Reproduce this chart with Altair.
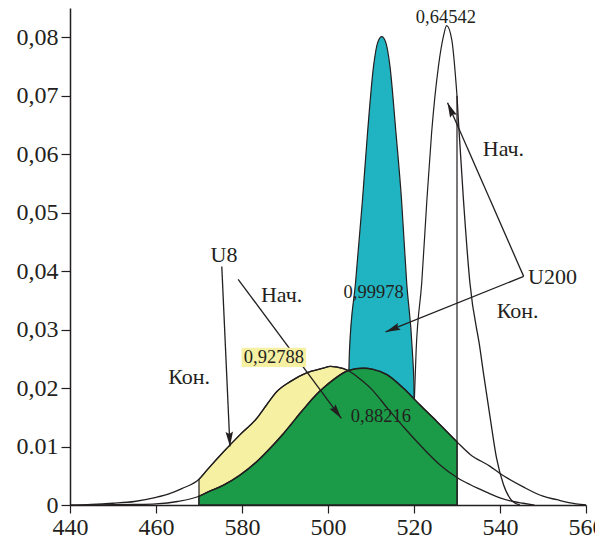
import math
import altair as alt
import pandas as pd

# ---------------- data ----------------
# U8, "Кон." (yellow curve)
u8_kon_x = [440, 445, 450, 455, 460, 463, 466, 470, 472, 475.7, 479.5, 483.4, 485.7, 488.1,
            491.2, 495, 498.9, 500.5, 502, 504.7, 507, 510, 514, 518, 522, 526, 530,
            533, 535.3, 537.7, 540, 543, 545.4, 548]
u8_kon_y = [0, 0.0001, 0.0003, 0.0006, 0.0013, 0.0019, 0.0028, 0.0044, 0.0061, 0.0091, 0.0120,
            0.0148, 0.0171, 0.0194, 0.0211, 0.0226, 0.0234, 0.0237, 0.0236, 0.0230, 0.0218,
            0.0199, 0.0164, 0.0130, 0.0098, 0.0069, 0.0047, 0.0035, 0.0027, 0.0019, 0.0012,
            0.0006, 0.0003, 0.0]

# U8, "Нач." (green curve)
u8_nach_x = [445, 450, 455, 460, 465, 470, 472, 475.7, 479.5, 483.4, 487.3, 489.5, 491.2,
             493.4, 495, 497.3, 498.9, 501.2, 504.7, 508.2, 510.5, 513.7, 517.5, 521.4,
             525.3, 530, 533, 537.7, 540, 545.4, 550, 553.2, 556, 560]
u8_nach_y = [0, 0.00005, 0.0001, 0.0002, 0.0006, 0.0015, 0.0022, 0.0034, 0.0051, 0.0074,
             0.0103, 0.0121, 0.0136, 0.0156, 0.0170, 0.0189, 0.0200, 0.0214, 0.0230, 0.0234,
             0.0232, 0.0223, 0.0200, 0.0171, 0.0143, 0.0108, 0.0087, 0.0066, 0.0054,
             0.0031, 0.0015, 0.0009, 0.0004, 0.0]

# U200, "Кон." (teal curve)
u200_kon_x = [504.7, 504.8, 505.0, 506.4, 508.0, 509.2, 510.6, 511.6, 512.5, 513.4, 514.4,
              515.8, 517.1, 518.3, 519.6, 520.0, 520.2]
u200_kon_y = [0, 0.020, 0.0265, 0.038, 0.052, 0.0637, 0.0751, 0.0792, 0.0801, 0.0792,
              0.0751, 0.0637, 0.0522, 0.038, 0.0265, 0.020, 0]

# U200, "Нач." (white curve)
u200_nach_x = [519.0, 519.8, 520.5, 521.8, 523.0, 524.1, 525.7, 526.8, 527.6, 528.8, 530.0,
               530.3, 531.5, 533.0, 535.4, 536.1, 537.7, 539.2, 540.8, 542.7, 544.6]
u200_nach_y = [0, 0.012, 0.0265, 0.038, 0.0522, 0.0637, 0.0751, 0.0800, 0.0820, 0.0795,
               0.0700, 0.0660, 0.0522, 0.038, 0.0265, 0.0228, 0.0150, 0.0080, 0.0035,
               0.0008, 0]

clip_lo, clip_hi = 470, 530

x_ticks = [440, 460, 480, 500, 520, 540, 560]
y_ticks = [0, 0.01, 0.02, 0.03, 0.04, 0.05, 0.06, 0.07, 0.08]

# annotations (data coordinates)
word_text = ["U200", "Нач.", "Кон.", "U8", "Нач.", "Кон."]
word_x = [552.2, 540.8, 544.1, 475.8, 489.2, 467.7]
word_y = [0.0390, 0.0608, 0.0331, 0.0428, 0.0360, 0.0219]

num_text = ["0,64542", "0,99978", "0,92788", "0,88216"]
num_x = [527.4, 510.6, 487.4, 512.3]
num_y = [0.0835, 0.0364, 0.0253, 0.0153]

box_x = [479.9]
box_x2 = [494.9]
box_y = [0.0236]
box_y2 = [0.0269]

arrow_x = [545.5, 545.5, 475.3, 479.1]
arrow_y = [0.0391, 0.0391, 0.0408, 0.0386]
arrow_tip_x = [527.8, 513.4, 477.2, 503.1]
arrow_tip_y = [0.0688, 0.0296, 0.0100, 0.0148]

# ---------------- chart ----------------
X_DOMAIN = [440, 560]
Y_DOMAIN = [0, 0.085]
W, H = 516, 497
INK = "#231f20"
FONT = "Liberation Serif"

xs = alt.Scale(domain=X_DOMAIN, nice=False, zero=False)
ys = alt.Scale(domain=Y_DOMAIN, nice=False)


def df(xv, yv):
    return pd.DataFrame({"x": xv, "y": yv})


def clipped(xv, yv, lo, hi):
    d = df(xv, yv)
    return d[(d.x >= lo) & (d.x <= hi)]


x_axis = alt.Axis(values=x_ticks, labelExpr="datum.value == 480 ? '580' : datum.label",
                  grid=False, title=None, domainColor=INK, domainWidth=1.5,
                  tickColor=INK, tickWidth=1.2, tickSize=8, labelFont=FONT,
                  labelFontSize=24, labelColor=INK, labelPadding=2, labelFlush=False)
y_axis = alt.Axis(values=y_ticks,
                  labelExpr="datum.value < 0.001 ? '0' : (datum.value > 0.005 && datum.value < 0.015 ? '0.01' : replace(format(datum.value, '.2f'), '.', ','))",
                  grid=False, title=None, domainColor=INK, domainWidth=1.5,
                  tickColor=INK, tickWidth=1.2, tickSize=9, labelFont=FONT,
                  labelFontSize=24, labelColor=INK, labelPadding=3, labelFlush=False)


def X(field="x"):
    return alt.X(f"{field}:Q", scale=xs, axis=x_axis)


def Y(field="y"):
    return alt.Y(f"{field}:Q", scale=ys, axis=y_axis)


SMOOTH = "monotone"

white_area = alt.Chart(clipped(u200_nach_x, u200_nach_y, 0, clip_hi)).mark_area(
    fill="white", stroke=INK, strokeWidth=1.2, opacity=1, interpolate=SMOOTH).encode(x=X(), y=Y())

teal_area = alt.Chart(df(u200_kon_x, u200_kon_y)).mark_area(
    fill="#20b3c1", stroke=INK, strokeWidth=1.2, opacity=1, interpolate=SMOOTH).encode(x=X(), y=Y())

yellow_area = alt.Chart(clipped(u8_kon_x, u8_kon_y, clip_lo, clip_hi)).mark_area(
    fill="#f6f0a2", stroke=INK, strokeWidth=1.2, opacity=1, interpolate=SMOOTH).encode(x=X(), y=Y())

green_area = alt.Chart(clipped(u8_nach_x, u8_nach_y, clip_lo, clip_hi)).mark_area(
    fill="#1b9a47", stroke=INK, strokeWidth=1.4, opacity=1, interpolate=SMOOTH).encode(x=X(), y=Y())

yellow_line = alt.Chart(df(u8_kon_x, u8_kon_y)).mark_line(
    color=INK, strokeWidth=1.3, interpolate=SMOOTH).encode(x=X(), y=Y())
green_line = alt.Chart(df(u8_nach_x, u8_nach_y)).mark_line(
    color=INK, strokeWidth=1.3, interpolate=SMOOTH).encode(x=X(), y=Y())
white_line = alt.Chart(clipped(u200_nach_x, u200_nach_y, clip_hi, 1000)).mark_line(
    color=INK, strokeWidth=1.3, interpolate=SMOOTH).encode(x=X(), y=Y())

arrows = pd.DataFrame({"x": arrow_x, "y": arrow_y, "x2": arrow_tip_x, "y2": arrow_tip_y})
sx = W / (X_DOMAIN[1] - X_DOMAIN[0])
sy = H / (Y_DOMAIN[1] - Y_DOMAIN[0])
arrows["angle"] = [
    math.degrees(math.atan2((tx - x0) * sx, (ty - y0) * sy)) % 360
    for x0, y0, tx, ty in zip(arrow_x, arrow_y, arrow_tip_x, arrow_tip_y)
]

arrow_lines = alt.Chart(arrows).mark_rule(color=INK, strokeWidth=1.3).encode(
    x=X(), y=Y(), x2="x2:Q", y2="y2:Q")

heads = alt.Chart(arrows).mark_point(
    shape="M0,0L0.5,2L0,1.7L-0.5,2Z", filled=True, color=INK, opacity=1, size=220
).encode(x=X("x2"), y=Y("y2"), angle=alt.Angle("angle:Q", scale=None))

box = alt.Chart(pd.DataFrame({"x": box_x, "x2": box_x2, "y": box_y, "y2": box_y2})).mark_rect(
    fill="#f6f0a2", opacity=1).encode(x=X(), x2="x2:Q", y=Y(), y2="y2:Q")

words = alt.Chart(pd.DataFrame({"x": word_x, "y": word_y, "t": word_text})).mark_text(
    font=FONT, fontSize=22, color=INK, align="center", baseline="middle").encode(
    x=X(), y=Y(), text="t:N")

nums = alt.Chart(pd.DataFrame({"x": num_x, "y": num_y, "t": num_text})).mark_text(
    font=FONT, fontSize=18.5, color=INK, align="center", baseline="middle").encode(
    x=X(), y=Y(), text="t:N")

chart = alt.layer(
    white_area, teal_area, yellow_area, green_area,
    yellow_line, green_line, white_line,
    arrow_lines, heads, box, words, nums
).properties(
    width=W, height=H,
    autosize=alt.AutoSizeParams(type="none"),
    padding={"left": 62, "top": 0, "right": 9, "bottom": 36},
    background="white",
).configure_view(stroke=None)

chart.save("out.html", embed_options={"renderer": "svg", "actions": False})
